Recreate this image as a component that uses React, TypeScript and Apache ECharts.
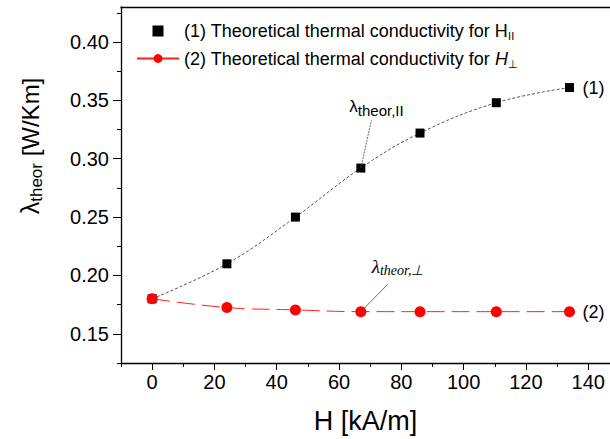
import React, { useEffect, useRef } from "react";
import * as echarts from "echarts";

const hPar = [0, 24, 46, 67, 86, 110.5, 134];
const lambdaPar = [0.18, 0.21, 0.25, 0.292, 0.322, 0.348, 0.361];
const hPerp = [0, 24, 46, 67, 86, 110.5, 134];
const lambdaPerp = [0.18, 0.1725, 0.1705, 0.169, 0.169, 0.169, 0.169];
const xMajorTicks = [0, 20, 40, 60, 80, 100, 120, 140];
const xMinorTicks = [-10, 10, 30, 50, 70, 90, 110, 130];
const yMajorTicks = [0.15, 0.2, 0.25, 0.3, 0.35, 0.4];
const yMinorTicks = [0.125, 0.175, 0.225, 0.275, 0.325, 0.375, 0.425];
const seriesNames = ["par", "perp"];
const legendTexts = [
  "(1) Theoretical thermal conductivity for H{sub|II}",
  "(2) Theoretical thermal conductivity for {it|H}{sub|\u22a5}",
];
const endLabels = ["(1)", "(2)"];

const FONT = "'Liberation Sans', Arial, sans-serif";

export default function App() {
  const ref = useRef<HTMLDivElement>(null);
  useEffect(() => {
    if (!ref.current) return;
    document.body.style.margin = "0";
    const chart = echarts.init(ref.current, null, { renderer: "svg" });
    const axisCommon = { min: -10, max: 147 };
    chart.setOption({
      animation: false,
      backgroundColor: "#fff",
      textStyle: { fontFamily: FONT },
      grid: { left: 121, right: 0, top: 7, bottom: 68 },
      legend: {
        orient: "vertical",
        left: 131,
        top: 17,
        itemGap: 8,
        itemWidth: 42,
        itemHeight: 11,
        data: [
          {
            name: seriesNames[0],
            icon: "path://M0,0h10v10h-10z",
            itemStyle: { color: "#000" },
          },
          { name: seriesNames[1] },
        ],
        formatter: (n: string) => legendTexts[seriesNames.indexOf(n)],
        textStyle: {
          fontFamily: FONT,
          fontSize: 18,
          color: "#000",
          rich: {
            sub: { fontSize: 11, fontFamily: FONT, padding: [10, 0, 0, 0], color: "#000" },
            it: { fontSize: 18, fontFamily: FONT, fontStyle: "italic", color: "#000" },
          },
        },
      },
      xAxis: [
        {
          type: "value",
          ...axisCommon,
          position: "bottom",
          name: "H [kA/m]",
          nameLocation: "middle",
          nameGap: 44,
          nameTextStyle: { fontSize: 27, color: "#000", fontFamily: FONT },
          axisLine: { show: true, onZero: false, lineStyle: { color: "#000", width: 1.3 } },
          axisTick: { show: true, length: 7, customValues: xMajorTicks, lineStyle: { color: "#000" } },
          axisLabel: { customValues: xMajorTicks, fontSize: 20, color: "#000", margin: 9, fontFamily: FONT },
          splitLine: { show: false },
        },
        {
          type: "value",
          ...axisCommon,
          position: "bottom",
          axisLine: { show: false, onZero: false },
          axisTick: { show: true, length: 4, customValues: xMinorTicks, lineStyle: { color: "#000" } },
          axisLabel: { show: false },
          splitLine: { show: false },
        },
        {
          type: "value",
          ...axisCommon,
          position: "top",
          axisLine: { show: true, onZero: false, lineStyle: { color: "#000", width: 1.3 } },
          axisTick: { show: false },
          axisLabel: { show: false },
          splitLine: { show: false },
        },
      ],
      yAxis: [
        {
          type: "value",
          min: 0.125,
          max: 0.43,
          position: "left",
          axisLine: { show: true, onZero: false, lineStyle: { color: "#000", width: 1.3 } },
          axisTick: { show: true, length: 8, customValues: yMajorTicks, lineStyle: { color: "#000" } },
          axisLabel: {
            customValues: yMajorTicks,
            formatter: (v: number) => v.toFixed(2),
            fontSize: 20,
            color: "#000",
            margin: 12,
            fontFamily: FONT,
          },
          splitLine: { show: false },
        },
        {
          type: "value",
          min: 0.125,
          max: 0.43,
          position: "left",
          axisLine: { show: false, onZero: false },
          axisTick: { show: true, length: 4, customValues: yMinorTicks, lineStyle: { color: "#000" } },
          axisLabel: { show: false },
          splitLine: { show: false },
        },
      ],
      series: [
        {
          name: seriesNames[0],
          type: "line",
          xAxisIndex: 0,
          yAxisIndex: 0,
          smooth: 0.4,
          data: hPar.map((h, i) => [h, lambdaPar[i]]),
          symbol: "rect",
          symbolSize: 9,
          itemStyle: { color: "#000" },
          lineStyle: { color: "#555", width: 1, type: [3, 2] },
          endLabel: { show: true, formatter: endLabels[0], fontSize: 18, color: "#000", distance: 13, fontFamily: FONT },
          z: 3,
        },
        {
          name: seriesNames[1],
          type: "line",
          xAxisIndex: 0,
          yAxisIndex: 0,
          smooth: 0.4,
          data: hPerp.map((h, i) => [h, lambdaPerp[i]]),
          symbol: "circle",
          symbolSize: 11,
          itemStyle: { color: "#ff0000" },
          lineStyle: { color: "#ff2020", width: 1, type: [18, 7] },
          endLabel: { show: true, formatter: endLabels[1], fontSize: 18, color: "#000", distance: 13, fontFamily: FONT },
          z: 4,
        },
      ],
    });

    const px = (x: number, y: number) => chart.convertToPixel({ xAxisIndex: 0, yAxisIndex: 0 }, [x, y]) as number[];
    const a1 = px(hPar[3], lambdaPar[3]);
    const a1e = px(70.4, 0.333);
    const t1 = px(63.3, 0.345);
    const a2 = px(hPerp[3], lambdaPerp[3]);
    const a2e = px(75.5, 0.192);
    const t2 = px(70.5, 0.208);

    chart.setOption({
      graphic: [
        {
          type: "text",
          x: 30,
          y: 146,
          rotation: Math.PI / 2,
          style: {
            text: "{l|\u03bb}{s|theor} [W/Km]",
            align: "center",
            verticalAlign: "middle",
            fill: "#000",
            font: `24px ${FONT}`,
            rich: {
              l: { fontSize: 25, fontFamily: FONT, fill: "#000" },
              s: { fontSize: 17, fontFamily: FONT, padding: [12, 0, 0, 0], fill: "#000" },
            },
          },
        },
        {
          type: "line",
          shape: { x1: a1[0], y1: a1[1], x2: a1e[0], y2: a1e[1] },
          style: { stroke: "#444", lineWidth: 0.8, lineDash: [2, 1] },
          z: 10,
        },
        {
          type: "text",
          x: t1[0],
          y: t1[1],
          style: {
            text: "{l|\u03bb}{s|theor,II}",
            align: "left",
            verticalAlign: "middle",
            fill: "#000",
            font: `16px ${FONT}`,
            rich: {
              l: { fontSize: 17, fontFamily: FONT, fill: "#000" },
              s: { fontSize: 15, fontFamily: FONT, padding: [9, 0, 0, 0], fill: "#000" },
            },
          },
          z: 10,
        },
        {
          type: "line",
          shape: { x1: a2[0], y1: a2[1], x2: a2e[0], y2: a2e[1] },
          style: { stroke: "#444", lineWidth: 0.8 },
          z: 10,
        },
        {
          type: "text",
          x: t2[0],
          y: t2[1],
          style: {
            text: "{l|\u03bb}{s|theor,\u22a5}",
            align: "left",
            verticalAlign: "middle",
            fill: "#000",
            font: `italic 18px 'Liberation Serif', serif`,
            rich: {
              l: { fontSize: 19, fontFamily: "'Liberation Serif', serif", fontStyle: "italic", fill: "#000" },
              s: { fontSize: 14, fontFamily: "'Liberation Serif', serif", fontStyle: "italic", padding: [8, 0, 0, 0], fill: "#000" },
            },
          },
          z: 10,
        },
      ],
    });

    return () => chart.dispose();
  }, []);
  return <div ref={ref} style={{ width: 610, height: 439 }} />;
}
